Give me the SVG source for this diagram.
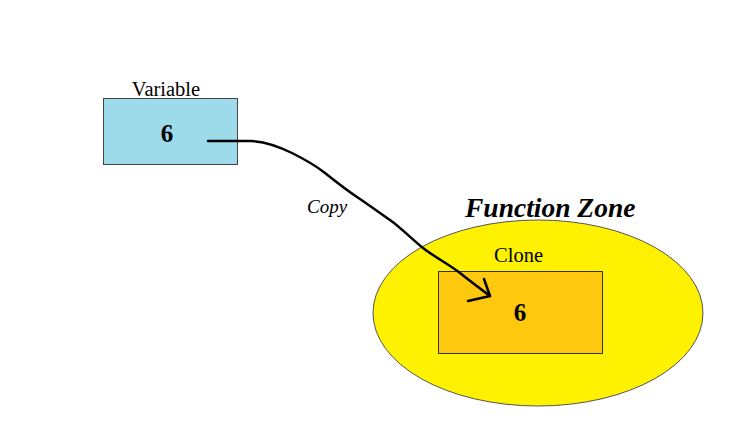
<svg xmlns="http://www.w3.org/2000/svg" width="750" height="448" viewBox="0 0 750 448">
<style>
.lbl{font-family:"Liberation Serif","Times New Roman",serif;font-size:20.5px;fill:#000}
.num{font-family:"Liberation Serif","Times New Roman",serif;font-size:25px;font-weight:bold;fill:#000}
.ink{fill:none;stroke:#000;stroke-width:2.5;stroke-linecap:round;stroke-linejoin:round}
</style>
<rect width="750" height="448" fill="#fff"/>
<g id="function-zone">
<ellipse cx="538" cy="313" rx="165" ry="93" fill="#fff200" stroke="#555" stroke-width="1"/>
<text x="465" y="217" font-family="'Liberation Serif','Times New Roman',serif" font-size="27.5" font-weight="bold" font-style="italic">Function Zone</text>
</g>
<g id="variable">
<rect x="103.5" y="98.5" width="134" height="66" fill="#9ddaea" stroke="#444" stroke-width="1"/>
<text class="lbl" x="166" y="96" text-anchor="middle">Variable</text>
<text class="num" x="167" y="142" text-anchor="middle">6</text>
</g>
<g id="clone">
<rect x="438.5" y="271.5" width="164" height="82" fill="#fec80e" stroke="#333" stroke-width="1"/>
<text class="lbl" x="518.5" y="262" text-anchor="middle">Clone</text>
<text class="num" x="520" y="321" text-anchor="middle">6</text>
</g>
<g id="connectors">
<path class="ink" d="M208,141 L252,141 C268,142 280,147 292,153 S315,165 325,173 S348,191 357,197 S380,213 390,220 S413,240 423,248 S450,265 460,273 S482,290 490,296"/>
<path class="ink" d="M468,301 L490,296 L484,279"/>
<text x="307" y="213" font-family="'Liberation Serif','Times New Roman',serif" font-size="19" font-style="italic">Copy</text>
</g>
</svg>
